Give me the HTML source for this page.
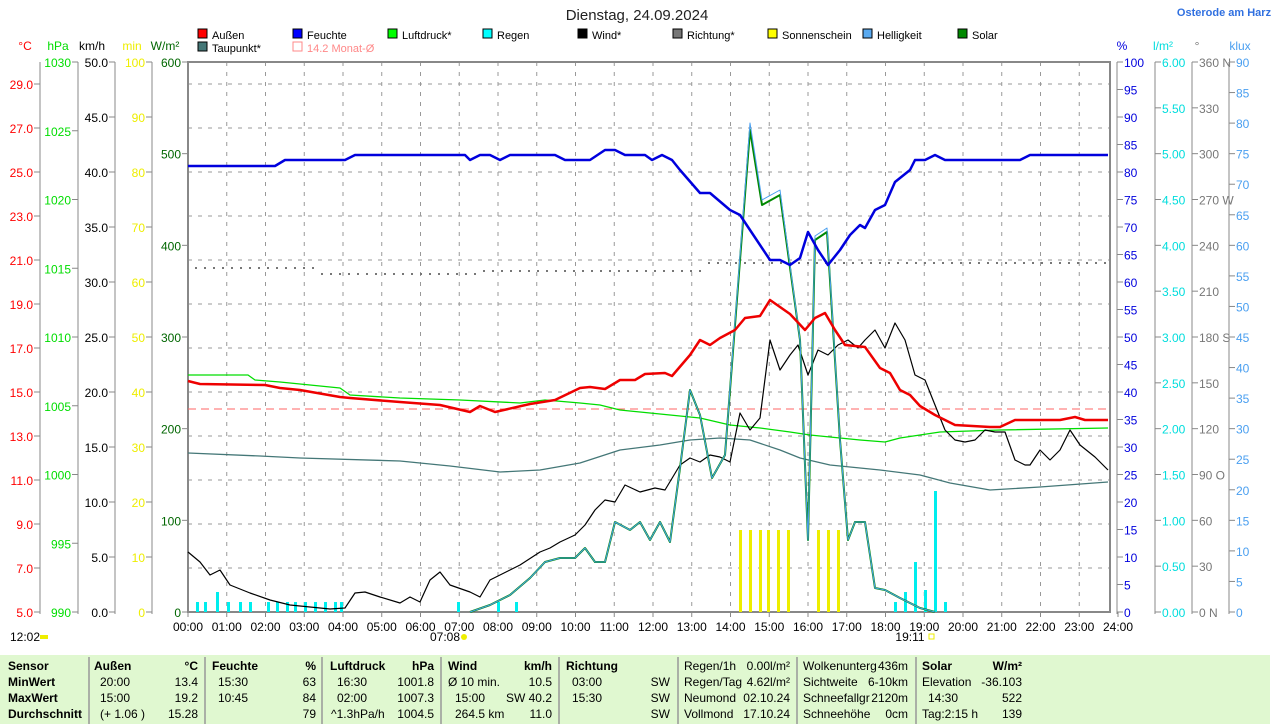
<!DOCTYPE html>
<html><head><meta charset="utf-8"><style>
body{margin:0;background:#fff;width:1274px;height:724px;overflow:hidden;font-family:"Liberation Sans",sans-serif}
svg{position:absolute;left:0;top:0}
text{font-family:"Liberation Sans",sans-serif;font-size:12px}
</style></head><body>
<svg id="s" width="1274" height="724" xmlns="http://www.w3.org/2000/svg">
<rect x="0" y="655" width="1270" height="69" fill="#e0f8d0"/>
<text x="637" y="20" text-anchor="middle" style="font-size:15px" fill="#222">Dienstag, 24.09.2024</text>
<text x="1224" y="16" text-anchor="middle" style="font-size:11px;font-weight:bold" fill="#3070e0">Osterode am Harz</text>
</svg>
<script>
const s=document.getElementById('s');const NS='http://www.w3.org/2000/svg';
function el(t,a,txt){const e=document.createElementNS(NS,t);for(const k in a)e.setAttribute(k,a[k]);if(txt!==undefined)e.textContent=txt;s.appendChild(e);return e;}
function tx(x,y,t,c,anc,extra){return el('text',Object.assign({x:x,y:y,fill:c||'#000','text-anchor':anc||'start'},extra||{}),t);}
const T=62,B=612,L=188,R=1110;
// grid
for(let h=1;h<24;h++){const x=L+h*38.75;el('line',{x1:x,y1:T,x2:x,y2:B,stroke:'#999','stroke-dasharray':'4,6'});}
for(let i=1;i<=12;i++){const y=B-i*44;if(y>T)el('line',{x1:L,y1:y,x2:R,y2:y,stroke:'#999','stroke-dasharray':'4,6'});}
el('rect',{x:L,y:T,width:R-L,height:B-T,fill:'none',stroke:'#888','stroke-width':2});
// left axes
function axis(x,vals,fmt,col,lab,labx){el('line',{x1:x,y1:T,x2:x,y2:B+2,stroke:'#888'});
 vals.forEach(([v,y])=>{el('line',{x1:x-6,y1:y,x2:x,y2:y,stroke:'#888'});tx(x-7,y+5,fmt(v),col,'end');});
 tx(labx,50,lab,col,'middle');}
function raxis(x,vals,fmt,col,lab,labx){el('line',{x1:x,y1:T,x2:x,y2:B+2,stroke:'#888'});
 vals.forEach(([v,y])=>{el('line',{x1:x,y1:y,x2:x+6,y2:y,stroke:'#888'});tx(x+7,y+5,fmt(v),col);});
 tx(labx,50,lab,col,'middle');}
let a=[];for(let v=5;v<=29;v+=2)a.push([v,B-(v-5)*22]);axis(40,a,v=>v.toFixed(1),'#f00','°C',25);
a=[];for(let v=990;v<=1030;v+=5)a.push([v,B-(v-990)*13.75]);axis(78,a,v=>v,'#0d0','hPa',58);
a=[];for(let v=0;v<=50;v+=5)a.push([v,B-v*11]);axis(115,a,v=>v.toFixed(1),'#000','km/h',92);
a=[];for(let v=0;v<=100;v+=10)a.push([v,B-v*5.5]);axis(152,a,v=>v,'#ee0','min',132);
a=[];for(let v=0;v<=600;v+=100)a.push([v,B-v*550/600]);axis(188,a,v=>v,'#060','W/m²',165);
a=[];for(let v=0;v<=100;v+=5)a.push([v,B-v*5.5]);raxis(1117,a,v=>v,'#00d','%',1122);
a=[];for(let v=0;v<=6;v+=0.5)a.push([v,B-v*550/6]);raxis(1155,a,v=>v.toFixed(2),'#0dd','l/m²',1163);
const dn={0:'N',90:'O',180:'S',270:'W',360:'N'};
a=[];for(let v=0;v<=360;v+=30)a.push([v,B-v*550/360]);raxis(1192,a,v=>v+(dn[v]?' '+dn[v]:''),'#777','°',1197);
a=[];for(let v=0;v<=90;v+=5)a.push([v,B-v*550/90]);raxis(1229,a,v=>v,'#4a9ff0','klux',1240);
// time labels
for(let h=0;h<=24;h++){const x=L+h*38.75;el('line',{x1:x,y1:B,x2:x,y2:B+5,stroke:'#888'});tx(x,631,(h<10?'0':'')+h+':00','#000','middle');}
tx(445,641,'07:08','#000','middle');el('circle',{cx:464,cy:637,r:3,fill:'#ee0'});
tx(910,641,'19:11','#000','middle');el('rect',{x:929,y:634,width:5,height:5,fill:'none',stroke:'#ee0'});
tx(10,641,'12:02','#000');el('rect',{x:40,y:635,width:8,height:4,fill:'#ee0'});
// legend
const leg=[[198,38,'#f00','Außen'],[293,38,'#00f','Feuchte'],[388,38,'#0f0','Luftdruck*'],[483,38,'#0ff','Regen'],[578,38,'#000','Wind*'],[673,38,'#777','Richtung*'],[768,38,'#ff0','Sonnenschein'],[863,38,'#5aaaf0','Helligkeit'],[958,38,'#080','Solar'],[198,51,'#477','Taupunkt*']];
leg.forEach(([x,y,c,t])=>{el('rect',{x:x,y:y-9,width:9,height:9,fill:c,stroke:'#000'});tx(x+14,y+1,t,'#000','start',{style:'font-size:11px'});});
el('rect',{x:293,y:42,width:9,height:9,fill:'none',stroke:'#f88'});tx(307,52,'14.2 Monat-Ø','#f88','start',{style:'font-size:11px'});
// monthly avg
el('line',{x1:L,y1:409,x2:R,y2:409,stroke:'#f66','stroke-dasharray':'8,5'});
// bars
function bar(x,y,c,w){el('rect',{x:x-1,y:y,width:w||3,height:B-y,fill:c});}
[[197,602],[205,602],[217,592],[228,602],[240,602],[250,602],[268,602],[277,602],[287,602],[295,602],[305,602],[315,602],[325,602],[335,602],[341,602],[458,602],[498,602],[516,602],[895,602],[905,592],[915,562],[925,590],[935,491],[945,602]].forEach(([x,y])=>bar(x,y,'#0ee'));
[740,750,760,768,778,788,818,828,838].forEach(x=>bar(x,530,'#ee0',3));
// direction dots
for(let x=195;x<1108;x+=9){const y=x<320?267:x<480?273:x<700?270:262;el('rect',{x:x,y:y+(x%27?0:2),width:2,height:2,fill:'#777'});}
function pl(pts,c,w){el('polyline',{points:pts,fill:'none',stroke:c,'stroke-width':w||1.3,'stroke-linejoin':'round'});}
pl('188,453 260,456 300,458 400,461 450,466 500,472 540,470 580,463 620,450 660,445 690,440 720,438 750,440 780,450 800,458 830,465 860,468 880,470 920,475 950,483 990,490 1040,487 1108,482','#477');
pl('188,375 248,375 255,380 280,382 340,388 350,395 400,398 460,400 520,403 545,400 580,403 600,405 620,410 650,413 700,418 730,425 760,428 790,432 810,435 830,437 860,440 885,442 900,438 940,432 1000,430 1108,428','#0d0');
pl('188,552 200,562 210,575 220,570 230,585 250,593 270,600 290,605 310,607 330,609 345,608 355,593 365,592 380,597 400,603 410,597 420,602 430,580 440,572 450,585 470,592 480,597 490,580 510,570 520,565 540,552 550,548 560,542 575,535 585,525 595,510 605,500 615,502 625,485 640,492 655,488 665,490 680,465 690,458 700,462 710,455 720,457 730,462 740,413 750,430 760,418 770,340 780,370 790,355 798,345 808,375 818,350 828,355 838,345 848,340 858,348 865,340 875,330 885,348 895,323 905,340 915,375 925,380 935,405 945,430 955,440 965,442 975,440 985,430 995,432 1005,432 1015,460 1025,465 1030,465 1040,450 1050,460 1060,450 1070,430 1080,445 1095,457 1108,470','#000',1.2);
const sol='470,612 490,605 510,595 530,578 545,562 560,558 575,558 585,548 595,562 605,562 615,522 630,530 640,522 650,540 660,522 670,542 680,468 690,390 700,415 712,478 725,455 750,130 762,205 780,195 800,340 808,540 815,240 827,232 840,440 848,540 855,522 865,522 875,588 885,590 900,598 920,608 935,612';
pl(sol,'#080',2);
pl('470,612 490,605 510,595 530,578 545,562 560,558 575,558 585,548 595,562 605,562 615,522 630,530 640,522 650,540 660,522 670,542 680,468 690,390 700,415 712,478 725,455 750,123 762,200 780,190 800,340 808,540 815,236 827,228 840,440 848,540 855,522 865,522 875,588 885,590 900,598 920,608 935,612','#4a9ff0',1);
pl('188,381 200,384 265,385 280,388 300,390 340,397 350,398 400,402 440,405 470,412 480,406 495,412 530,404 555,400 580,388 590,387 605,389 620,380 635,380 645,374 665,373 672,376 690,355 700,340 710,345 720,338 735,330 745,318 760,316 770,300 790,314 805,330 815,318 825,313 835,330 845,345 865,347 880,368 890,373 900,390 910,395 920,406 935,415 945,420 955,425 990,427 1000,427 1015,420 1060,420 1075,417 1085,420 1108,420','#e00',2.5);
pl('188,166 275,166 285,160 345,160 355,155 465,155 470,160 480,155 490,155 500,160 510,155 555,155 565,160 590,160 605,150 615,150 625,155 645,155 652,160 662,155 672,160 680,170 700,193 710,193 730,210 740,215 750,230 770,260 780,260 790,265 800,258 808,232 818,250 828,265 840,250 850,235 860,225 865,228 875,210 885,205 895,182 910,170 915,160 925,160 935,155 945,160 1020,160 1030,155 1108,155','#00d',2.5);
// table
[89,205,322,441,559,678,797,916].forEach(x=>el('line',{x1:x,y1:657,x2:x,y2:724,stroke:'#999','stroke-width':1.5}));
const rows=[670,686,702,718];
function t(x,r,s,anc,b){tx(x,rows[r],s,'#000',anc||'start',b?{style:'font-weight:bold'}:{});}
['Sensor','MinWert','MaxWert','Durchschnitt'].forEach((v,i)=>t(8,i,v,'start',1));
t(94,0,'Außen','start',1);t(198,0,'°C','end',1);t(100,1,'20:00');t(198,1,'13.4','end');t(100,2,'15:00');t(198,2,'19.2','end');t(100,3,'(+ 1.06 )');t(198,3,'15.28','end');
t(212,0,'Feuchte','start',1);t(316,0,'%','end',1);t(218,1,'15:30');t(316,1,'63','end');t(218,2,'10:45');t(316,2,'84','end');t(316,3,'79','end');
t(330,0,'Luftdruck','start',1);t(434,0,'hPa','end',1);t(337,1,'16:30');t(434,1,'1001.8','end');t(337,2,'02:00');t(434,2,'1007.3','end');t(331,3,'^1.3hPa/h');t(434,3,'1004.5','end');
t(448,0,'Wind','start',1);t(552,0,'km/h','end',1);t(448,1,'Ø 10 min.');t(552,1,'10.5','end');t(455,2,'15:00');t(552,2,'SW 40.2','end');t(455,3,'264.5 km');t(552,3,'11.0','end');
t(566,0,'Richtung','start',1);t(572,1,'03:00');t(572,2,'15:30');t(670,1,'SW','end');t(670,2,'SW','end');t(670,3,'SW','end');
t(684,0,'Regen/1h');t(790,0,'0.00l/m²','end');t(684,1,'Regen/Tag');t(790,1,'4.62l/m²','end');t(684,2,'Neumond');t(790,2,'02.10.24','end');t(684,3,'Vollmond');t(790,3,'17.10.24','end');
t(803,0,'Wolkenunterg');t(908,0,'436m','end');t(803,1,'Sichtweite');t(908,1,'6-10km','end');t(803,2,'Schneefallgr');t(908,2,'2120m','end');t(803,3,'Schneehöhe');t(908,3,'0cm','end');
t(922,0,'Solar','start',1);t(1022,0,'W/m²','end',1);t(922,1,'Elevation');t(1022,1,'-36.103','end');t(928,2,'14:30');t(1022,2,'522','end');t(922,3,'Tag:2:15 h');t(1022,3,'139','end');
</script>
</body></html>
